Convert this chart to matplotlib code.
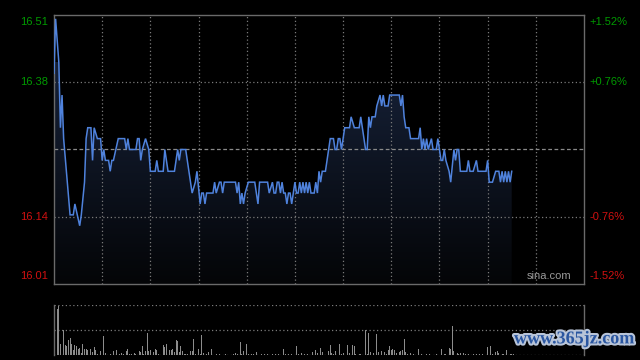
import numpy as np
import matplotlib
matplotlib.use("Agg")
import matplotlib.pyplot as plt
from matplotlib import patheffects as pe

# ---------------- data ----------------
prev_close = 16.26
y_labels_left = ["16.51", "16.38", "16.14", "16.01"]
y_labels_right = ["+1.52%", "+0.76%", "-0.76%", "-1.52%"]
y_levels = [16.507, 16.3836, 16.1364, 16.013]

# price line vertices: minute index (0..330 session) and price
price_t = [0, 1, 3, 4, 5, 6, 10, 12, 13, 16, 17, 19, 20, 21, 23, 24, 25, 27, 29, 30,
           31, 32, 34, 35, 36, 37, 40, 44, 45, 46, 47, 51, 52, 53, 54, 55, 57, 59, 60, 63,
           64, 65, 68, 69, 71, 75, 77, 78, 79, 82, 85, 86, 88, 89, 91, 92, 93, 94, 95, 99,
           100, 101, 103, 104, 105, 106, 113, 114, 115, 116, 117, 118, 119, 121, 125, 127, 128, 133, 134, 136,
           137, 138, 139, 140, 141, 142, 143, 144, 145, 146, 147, 148, 150, 151, 152, 153, 154, 155, 156, 157,
           158, 159, 160, 162, 163, 164, 165, 166, 167, 169, 170, 172, 174, 175, 176, 177, 178, 179, 181, 184,
           185, 187, 190, 191, 192, 194, 195, 196, 197, 198, 200, 201, 203, 204, 205, 206, 208, 209, 215, 216,
           217, 218, 219, 221, 222, 227, 228, 229, 230, 231, 232, 233, 235, 236, 238, 239, 240, 241, 242, 243,
           244, 246, 247, 249, 250, 251, 252, 253, 257, 258, 259, 261, 263, 264, 269, 270, 271, 273, 275, 277,
           278, 279, 280, 281, 282, 283, 284, 285]
price_v = [16.40, 16.50, 16.42, 16.30, 16.36, 16.28, 16.14, 16.14, 16.16, 16.12, 16.14, 16.20, 16.28, 16.30, 16.30, 16.24, 16.30, 16.28, 16.28, 16.24,
           16.26, 16.24, 16.24, 16.22, 16.24, 16.24, 16.28, 16.28, 16.26, 16.28, 16.26, 16.26, 16.28, 16.28, 16.24, 16.26, 16.28, 16.26, 16.22, 16.22,
           16.24, 16.22, 16.22, 16.26, 16.22, 16.22, 16.26, 16.24, 16.26, 16.26, 16.20, 16.18, 16.20, 16.22, 16.16, 16.18, 16.18, 16.16, 16.18, 16.18,
           16.20, 16.18, 16.20, 16.20, 16.18, 16.20, 16.20, 16.18, 16.20, 16.16, 16.18, 16.16, 16.18, 16.20, 16.20, 16.16, 16.20, 16.20, 16.18, 16.20,
           16.18, 16.18, 16.20, 16.20, 16.18, 16.20, 16.18, 16.18, 16.16, 16.18, 16.18, 16.16, 16.20, 16.18, 16.18, 16.20, 16.18, 16.20, 16.18, 16.20,
           16.18, 16.20, 16.18, 16.18, 16.20, 16.18, 16.22, 16.20, 16.22, 16.22, 16.24, 16.28, 16.28, 16.26, 16.26, 16.28, 16.28, 16.26, 16.30, 16.30,
           16.32, 16.30, 16.30, 16.32, 16.30, 16.26, 16.26, 16.32, 16.30, 16.32, 16.32, 16.34, 16.36, 16.34, 16.36, 16.34, 16.34, 16.36, 16.36, 16.34,
           16.36, 16.32, 16.30, 16.30, 16.28, 16.28, 16.30, 16.26, 16.28, 16.26, 16.28, 16.26, 16.28, 16.26, 16.26, 16.28, 16.26, 16.24, 16.24, 16.26,
           16.24, 16.22, 16.20, 16.26, 16.24, 16.26, 16.26, 16.22, 16.22, 16.24, 16.22, 16.22, 16.24, 16.22, 16.22, 16.24, 16.20, 16.20, 16.22, 16.22,
           16.20, 16.22, 16.20, 16.22, 16.20, 16.22, 16.20, 16.22]

# volume bars (relative units, panel top = 100)
vol_t = [0, 2, 3, 4, 5, 6, 7, 8, 9, 10, 11, 12, 13, 14, 15, 16, 17, 18, 19, 20,
         21, 23, 24, 25, 26, 27, 28, 29, 31, 32, 33, 35, 37, 39, 41, 42, 43, 45, 46, 47,
         48, 50, 51, 53, 54, 55, 56, 57, 58, 59, 60, 61, 62, 63, 64, 65, 66, 68, 69, 70,
         71, 72, 73, 74, 75, 76, 77, 78, 79, 80, 81, 82, 83, 85, 86, 87, 88, 90, 91, 92,
         93, 94, 95, 96, 98, 99, 101, 103, 105, 107, 110, 112, 113, 114, 116, 117, 118, 120, 121, 123,
         124, 126, 127, 129, 131, 133, 136, 138, 140, 143, 144, 146, 148, 151, 152, 154, 156, 158, 160, 161,
         163, 164, 166, 167, 170, 171, 172, 173, 174, 175, 178, 179, 180, 183, 184, 186, 187, 188, 190, 191,
         193, 194, 195, 196, 197, 198, 199, 201, 202, 203, 204, 206, 207, 208, 209, 210, 211, 212, 213, 215,
         216, 217, 218, 219, 220, 222, 224, 226, 227, 229, 231, 232, 234, 236, 238, 241, 243, 244, 246, 247,
         248, 249, 251, 252, 253, 255, 256, 258, 259, 261, 263, 265, 267, 269, 270, 272, 273, 275, 276, 277,
         279, 280, 282, 284, 285, 286]
vol_v = [67, 92, 98, 23, 45, 50, 20, 19, 30, 35, 22, 10, 20, 18, 13, 15, 5, 22, 13, 13,
         10, 13, 7, 17, 10, 3, 7, 9, 38, 5, 2, 2, 9, 11, 3, 5, 3, 9, 13, 3,
         2, 5, 3, 9, 7, 18, 3, 9, 45, 9, 11, 23, 7, 13, 10, 3, 2, 20, 17, 23,
         22, 10, 11, 13, 7, 31, 28, 7, 18, 9, 3, 3, 2, 8, 8, 33, 2, 13, 2, 40,
         5, 2, 3, 7, 13, 5, 3, 2, 1, 2, 1, 2, 5, 2, 26, 3, 9, 22, 2, 2,
         3, 6, 2, 2, 3, 2, 3, 2, 3, 13, 2, 2, 3, 18, 3, 5, 2, 2, 3, 7,
         11, 5, 15, 7, 31, 9, 20, 5, 3, 8, 22, 3, 5, 20, 5, 20, 18, 3, 3, 2,
         5, 51, 2, 45, 7, 3, 5, 42, 7, 9, 9, 7, 3, 11, 18, 11, 13, 11, 5, 7,
         9, 11, 33, 7, 3, 5, 2, 3, 13, 2, 26, 3, 3, 2, 3, 13, 2, 3, 15, 13,
         58, 8, 5, 2, 5, 5, 3, 2, 3, 3, 2, 2, 3, 2, 17, 18, 2, 7, 8, 5,
         3, 2, 11, 2, 3, 2]

session_minutes = 330
grid_minutes = list(range(30, 330, 30))

# ---------------- style ----------------
bg = "#000000"
line_c = "#4f82dc"
grid_c = "#7a7a7a"
spine_c = "#6a6a6a"
green = "#009a00"
red = "#d01010"

fig = plt.figure(figsize=(6.4, 3.6), dpi=100, facecolor=bg)
ax = fig.add_axes([54 / 640, 1 - 284 / 360, 530 / 640, 269 / 360], facecolor=bg)
axv = fig.add_axes([54 / 640, 1 - 355 / 360, 530 / 640, 50 / 360], facecolor=bg)

ymin, ymax = y_levels[-1], y_levels[0]
ax.set_xlim(0, session_minutes)
ax.set_ylim(ymin, ymax)

# gradient fill under the line
grad = np.linspace(0, 1, 256).reshape(-1, 1)
top_col = np.array([22, 33, 56]) / 255.0
bot_col = np.array([4, 5, 7]) / 255.0
img = bot_col + (top_col - bot_col) * grad
img = img[::-1]
im = ax.imshow(img.reshape(256, 1, 3), extent=[0, session_minutes, ymin, 16.42],
               aspect="auto", origin="upper", zorder=1, interpolation="bilinear")
poly = ax.fill_between(price_t, price_v, ymin, color="none", lw=0)
clip = poly.get_paths()[0]
im.set_clip_path(clip, transform=ax.transData)

# gridlines
for m in grid_minutes:
    ax.axvline(m, color=grid_c, lw=0.9, ls=(0, (1, 2)), zorder=2)
for lv in [y_levels[1], y_levels[2]]:
    ax.axhline(lv, color=grid_c, lw=0.9, ls=(0, (1, 2)), zorder=2)
ax.axhline(prev_close, color="#8a8a8a", lw=0.9, ls=(0, (3, 2)), zorder=2)

ax.plot(price_t, price_v, color=line_c, lw=1.1, zorder=3, solid_joinstyle="miter")

for s in ax.spines.values():
    s.set_color(spine_c)
    s.set_linewidth(1.0)
ax.set_xticks([])
ax.set_yticks([])

# axis labels
fnt = dict(family=["Liberation Sans", "DejaVu Sans"], fontsize=8)
cols = [green, green, red, red]
vas = ["top", "center", "center", "bottom"]
offs = [-1.5, 0, 0, 2.5]
for lab, rlab, lv, c, va, off in zip(y_labels_left, y_labels_right, y_levels, cols, vas, offs):
    ax.annotate(lab, xy=(0, lv), xycoords=("axes fraction", "data"),
                xytext=(-4, off), textcoords="offset points", ha="right", va=va, color=c, **fnt)
    ax.annotate(rlab, xy=(1, lv), xycoords=("axes fraction", "data"),
                xytext=(4, off), textcoords="offset points", ha="left", va=va, color=c, **fnt)

ax.text(0.977, 0.012, "sina.com", transform=ax.transAxes, ha="right", va="bottom",
        color="#9a9a9a", **fnt)

# volume panel
axv.set_xlim(0, session_minutes)
axv.set_ylim(0, 100)
axv.bar(vol_t, vol_v, width=0.55, color="#8c8c8c", linewidth=0, zorder=2)
axv.axhline(50, color=grid_c, lw=0.9, ls=(0, (1, 2)), zorder=1)
axv.axhline(99.5, color=grid_c, lw=0.9, ls=(0, (1, 2)), zorder=1)
axv.axhline(0.5, color=grid_c, lw=0.9, ls=(0, (1, 2)), zorder=1)
for k in ["top", "bottom"]:
    axv.spines[k].set_visible(False)
for k in ["left", "right"]:
    axv.spines[k].set_color(spine_c)
    axv.spines[k].set_linewidth(1.0)
axv.set_xticks([])
axv.set_yticks([])

# watermark
fig.text(0.99, 0.035, "www.365jz.com", ha="right", va="bottom", fontsize=13,
         fontweight="bold", family=["Liberation Serif", "DejaVu Serif"], color="#2a56a0",
         path_effects=[pe.withStroke(linewidth=3, foreground="#b8c4d8")])

fig.savefig("out.png", dpi=100, facecolor=bg)
